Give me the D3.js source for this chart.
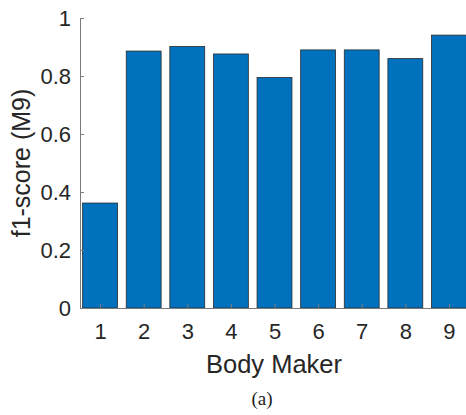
<!DOCTYPE html>
<html>
<head>
	<title>f1-score</title>
	<script src="https://d3js.org/d3.v7.min.js" charset="utf-8"></script>
	<style>
		body { margin: 0; background: #fff; }
		svg { display: block; font-family: "Liberation Sans", Arial, sans-serif; }
	</style>
</head>
<body>
	<script>
		// data
		var makers = [1, 2, 3, 4, 5, 6, 7, 8, 9];
		var f1 = [0.362, 0.886, 0.902, 0.876, 0.795, 0.890, 0.890, 0.860, 0.941];
		var yTicks = [0, 0.2, 0.4, 0.6, 0.8, 1];
		var yTickLabels = ["0", "0.2", "0.4", "0.6", "0.8", "1"];

		var width = 466, height = 415;
		var svg = d3.select("body").append("svg")
			.attr("width", width)
			.attr("height", height);

		// plot area: left axis at 80, y 0 -> 308, 1 -> 18
		var x = d3.scaleLinear().domain([0.54, 9.46]).range([80, 469]);
		var y = d3.scaleLinear().domain([0, 1]).range([308, 18]);
		var barW = (x(2) - x(1)) * 0.8;

		var axisCol = "#7a7a7a";

		// bars
		svg.selectAll("rect.bar")
			.data(makers)
			.enter().append("rect")
			.attr("class", "bar")
			.attr("x", function(d) { return x(d) - barW / 2; })
			.attr("y", function(d, i) { return y(f1[i]); })
			.attr("width", barW)
			.attr("height", function(d, i) { return y(0) - y(f1[i]); })
			.attr("fill", "#0072BD")
			.attr("stroke", "#2b2b2b")
			.attr("stroke-width", 0.8);

		// y axis (ticks point inward, like matlab)
		var yAxis = d3.axisLeft(y)
			.tickValues(yTicks)
			.tickFormat(function(d, i) { return yTickLabels[i]; })
			.tickSizeInner(-4)
			.tickSizeOuter(0)
			.tickPadding(9);
		var gy = svg.append("g")
			.attr("transform", "translate(80,0)")
			.call(yAxis);

		// x axis
		var xAxis = d3.axisBottom(x)
			.tickValues(makers)
			.tickFormat(d3.format("d"))
			.tickSizeInner(-4)
			.tickSizeOuter(0)
			.tickPadding(15);
		var gx = svg.append("g")
			.attr("transform", "translate(0,308)")
			.call(xAxis);

		[gx, gy].forEach(function(g) {
			g.select(".domain").attr("stroke", axisCol).attr("stroke-width", 1);
			g.selectAll(".tick line").attr("stroke", axisCol);
			g.selectAll(".tick text")
				.attr("fill", "#262626")
				.style("font-size", "22px")
				.style("font-family", "Liberation Sans, Arial, sans-serif");
		});

		// axis titles
		svg.append("text")
			.attr("transform", "translate(30,163) rotate(-90)")
			.attr("text-anchor", "middle")
			.attr("fill", "#262626")
			.style("font-size", "25px")
			.text("f1-score (M9)");

		svg.append("text")
			.attr("x", 274)
			.attr("y", 373)
			.attr("text-anchor", "middle")
			.attr("fill", "#262626")
			.style("font-size", "25.5px")
			.text("Body Maker");

		// subfigure caption
		svg.append("text")
			.attr("x", 262)
			.attr("y", 405)
			.attr("text-anchor", "middle")
			.attr("fill", "#222")
			.style("font-family", "Liberation Serif, DejaVu Serif, serif")
			.style("font-size", "19px")
			.text("(a)");
	</script>
</body>
</html>
